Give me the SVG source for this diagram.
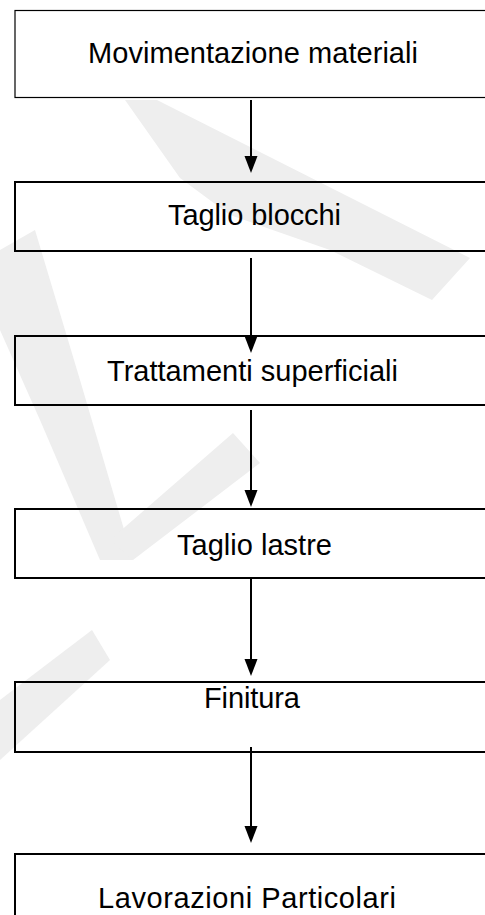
<svg xmlns="http://www.w3.org/2000/svg" width="485" height="915" viewBox="0 0 485 915">
<style>
.box{fill:none;stroke:#000;stroke-width:2}
.box1{fill:none;stroke:#000;stroke-width:1.2}
.lbl{font-family:"Liberation Sans",Arial,sans-serif;font-size:29px;fill:#000}
.wm{fill:#eeeeee}
.conn line{stroke:#000;stroke-width:2}
.conn path{fill:#000}
</style>
<rect width="485" height="915" fill="#fff"/>
<g id="watermark">
<polygon class="wm" points="125,100 157,100 470,258 432,300 330,250 230,215 180,178"/>
<polygon class="wm" points="0,250 35,230 80,380 133,560 100,560 40,420 0,330"/>
<polygon class="wm" points="233,433 260,463 133,560 110,540"/>
<polygon class="wm" points="0,700 92,630 110,660 0,760"/>
</g>
<g id="connectors" class="conn">
<line x1="251" y1="100" x2="251" y2="158"/>
<path d="M244.5,156 L257.5,156 L251,173 Z"/>
<line x1="251" y1="258" x2="251" y2="338"/>
<path d="M244.5,336 L257.5,336 L251,353 Z"/>
<line x1="251" y1="410" x2="251" y2="492"/>
<path d="M244.5,490 L257.5,490 L251,507 Z"/>
<line x1="251" y1="578" x2="251" y2="661"/>
<path d="M244.5,659 L257.5,659 L251,676 Z"/>
<line x1="251" y1="747" x2="251" y2="828"/>
<path d="M244.5,826 L257.5,826 L251,843 Z"/>
</g>
<g id="n1">
<rect class="box1" x="15" y="10.5" width="500" height="87"/>
<text class="lbl" x="88" y="63" textLength="330">Movimentazione materiali</text>
</g>
<g id="n2">
<rect class="box" x="15" y="182" width="500" height="69"/>
<text class="lbl" x="168" y="225" textLength="173">Taglio blocchi</text>
</g>
<g id="n3">
<rect class="box" x="15" y="336" width="500" height="69"/>
<text class="lbl" x="107" y="381" textLength="291">Trattamenti superficiali</text>
</g>
<g id="n4">
<rect class="box" x="15" y="509" width="500" height="69"/>
<text class="lbl" x="177" y="555" textLength="155">Taglio lastre</text>
</g>
<g id="n5">
<rect class="box" x="15" y="682" width="500" height="70"/>
<text class="lbl" x="204" y="708" textLength="96">Finitura</text>
</g>
<g id="n6">
<rect class="box" x="15" y="854" width="500" height="80"/>
<text class="lbl" x="98" y="908" textLength="298">Lavorazioni Particolari</text>
</g>
</svg>
